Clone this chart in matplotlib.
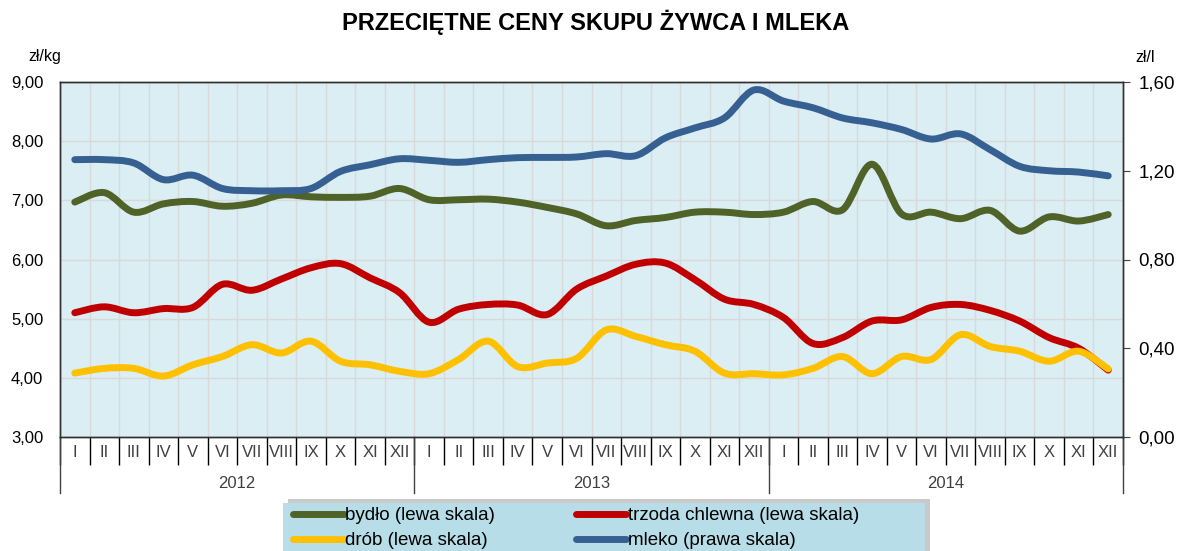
import matplotlib.pyplot as plt
import matplotlib.transforms as mtransforms
import numpy as np
from matplotlib.path import Path
from matplotlib.patches import PathPatch, Rectangle
from matplotlib.lines import Line2D

plt.rcParams['font.family'] = ['Liberation Sans', 'DejaVu Sans']

months = ["I", "II", "III", "IV", "V", "VI", "VII", "VIII", "IX", "X", "XI", "XII"] * 3
years = ["2012", "2013", "2014"]

# zl/kg (left scale)
bydlo = [6.97, 7.13, 6.80, 6.94, 6.98, 6.90, 6.95, 7.09, 7.06, 7.05, 7.07, 7.20,
         7.01, 7.01, 7.02, 6.97, 6.88, 6.77, 6.57, 6.66, 6.71, 6.80, 6.80, 6.76,
         6.80, 6.98, 6.84, 7.61, 6.77, 6.80, 6.69, 6.83, 6.48, 6.72, 6.65, 6.76]
trzoda = [5.10, 5.20, 5.10, 5.17, 5.19, 5.58, 5.48, 5.67, 5.86, 5.93, 5.69, 5.44,
          4.94, 5.16, 5.24, 5.23, 5.07, 5.50, 5.72, 5.92, 5.94, 5.66, 5.33, 5.24,
          5.02, 4.58, 4.68, 4.96, 4.98, 5.19, 5.24, 5.14, 4.96, 4.68, 4.50, 4.13]
drob = [4.08, 4.16, 4.16, 4.03, 4.22, 4.36, 4.56, 4.42, 4.62, 4.28, 4.22, 4.11,
        4.07, 4.31, 4.62, 4.19, 4.25, 4.33, 4.81, 4.70, 4.56, 4.45, 4.08, 4.07,
        4.05, 4.16, 4.36, 4.07, 4.36, 4.31, 4.73, 4.53, 4.45, 4.28, 4.45, 4.15]
# zl/l (right scale)
mleko = [1.25, 1.25, 1.235, 1.16, 1.18, 1.12, 1.11, 1.11, 1.12, 1.197, 1.227, 1.254,
         1.247, 1.238, 1.25, 1.259, 1.26, 1.262, 1.277, 1.268, 1.348, 1.393, 1.438, 1.564,
         1.514, 1.484, 1.438, 1.416, 1.386, 1.343, 1.366, 1.295, 1.22, 1.20, 1.194, 1.177]

left_ticks = [3, 4, 5, 6, 7, 8, 9]
right_ticks = [0.0, 0.4, 0.8, 1.2, 1.6]


def smooth_path(x, y):
    # Excel-like smoothed line: cubic bezier segments through the data points
    pts = np.column_stack([x, y]).astype(float)
    ext = np.vstack([pts[0], pts, pts[-1]])
    verts = [pts[0]]
    codes = [Path.MOVETO]
    for i in range(len(pts) - 1):
        p0, p1, p2, p3 = ext[i], ext[i + 1], ext[i + 2], ext[i + 3]
        verts += [p1 + (p2 - p0) / 6, p2 - (p3 - p1) / 6, p2]
        codes += [Path.CURVE4] * 3
    return Path(verts, codes)


W, H = 1178, 551
fig = plt.figure(figsize=(W / 100, H / 100), dpi=100)
ax = fig.add_axes([60 / W, 1 - 437 / H, 1063 / W, 355 / H])
ax.set_facecolor('#DBEEF4')
ax.set_xlim(-0.5, 35.5)
ax.set_ylim(3, 9)
ax2 = ax.twinx()
ax2.set_ylim(0, 1.6)

x = np.arange(len(months))
series = [
    ("bydło (lewa skala)", bydlo, '#4F6228', ax),
    ("trzoda chlewna (lewa skala)", trzoda, '#C00000', ax),
    ("drób (lewa skala)", drob, '#FFC000', ax),
    ("mleko (prawa skala)", mleko, '#366092', ax2),
]
handles = []
for label, vals, col, a in series:
    a.add_patch(PathPatch(smooth_path(x, vals), fill=False, edgecolor=col, lw=5,
                          capstyle='round', joinstyle='round', zorder=3))
    handles.append(Line2D([], [], color=col, lw=5, solid_capstyle='round', label=label))

# grid
ax.set_axisbelow(True)
ax.set_yticks(left_ticks)
ax.set_yticklabels([f"{v:.2f}".replace('.', ',') for v in left_ticks])
ax.grid(axis='y', color='#D9D9D9', lw=1)
ax.set_xticks(x)
ax.set_xticklabels(months, fontsize=12, color='#404040')
ax.set_xticks(np.arange(-0.5, 36, 1), minor=True)
ax.grid(axis='x', which='minor', color='#D9D9D9', lw=1)
ax.tick_params(axis='x', which='major', length=0, pad=6)
ax.tick_params(axis='x', which='minor', length=20, width=1, color='black', direction='out')
ax.tick_params(axis='y', length=0, pad=12, labelsize=12)

ax2.set_yticks(right_ticks)
ax2.set_yticklabels([f"{v:.2f}".replace('.', ',') for v in right_ticks])
ax2.tick_params(axis='y', length=5, pad=6, color='#404040', labelsize=13.5)

for a in (ax, ax2):
    for s in a.spines.values():
        s.set_color('#303030')
        s.set_linewidth(1)

# year band below month labels
trans = mtransforms.blended_transform_factory(ax.transData, ax.transAxes)
for b in [-0.5, 11.5, 23.5, 35.5]:
    ax.plot([b, b], [0, -0.158], transform=trans, clip_on=False, color='#404040', lw=1)
for i, yr in enumerate(years):
    ax.text(i * 12 + 5.5, -0.13, yr, transform=trans, ha='center', va='center',
            fontsize=12, color='#404040')

# axis units and title
fig.text(45 / W, 1 - 57 / H, "zł/kg", ha='center', va='center', fontsize=11.5)
fig.text(1145 / W, 1 - 57 / H, "zł/l", ha='center', va='center', fontsize=11.5)
fig.text(596 / W, 1 - 22 / H, "PRZECIĘTNE CENY SKUPU ŻYWCA I MLEKA", ha='center', va='center',
         fontsize=17, fontweight='bold')

# legend box with shadow
fig.patches.append(Rectangle((288 / W, -0.05), 642 / W, 0.05 + 1 - 499 / H, transform=fig.transFigure,
                             facecolor='#A6A6A6', edgecolor='none', alpha=0.6))
fig.patches.append(Rectangle((283 / W, -0.05), 642 / W, 0.05 + 1 - 503 / H, transform=fig.transFigure,
                             facecolor='#B7DEE8', edgecolor='none'))
order = [handles[0], handles[2], handles[1], handles[3]]
fig.legend(handles=order, ncol=2, loc='upper left', bbox_to_anchor=(293 / W, 1 - 507 / H),
           frameon=False, fontsize=13.5, handlelength=2.7, handletextpad=0.08,
           columnspacing=4.3, labelspacing=0.42, borderpad=0, borderaxespad=0)

fig.savefig('out.png', dpi=100)
